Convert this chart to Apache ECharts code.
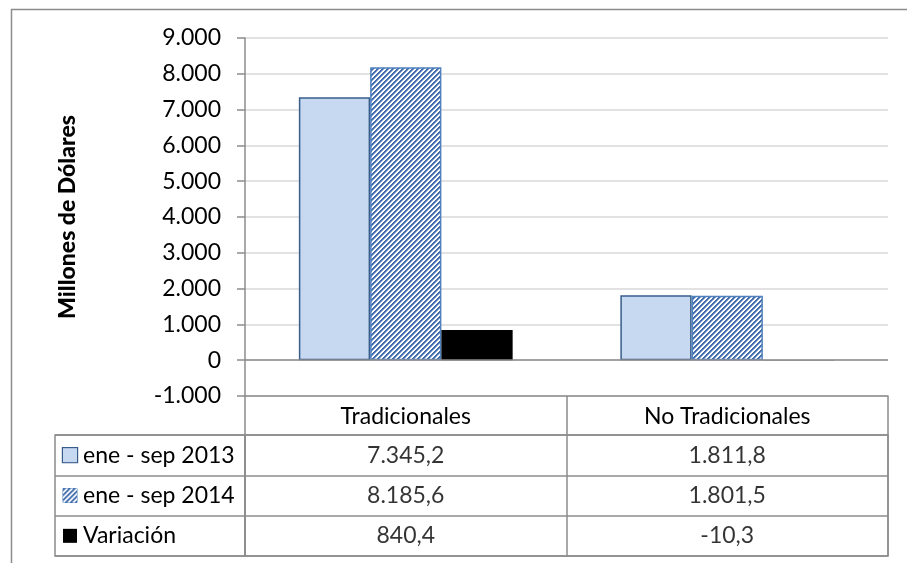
<!DOCTYPE html>
<html>
<head>
<meta charset="utf-8">
<script src="https://cdn.jsdelivr.net/npm/echarts@6/dist/echarts.min.js"></script>
<style>
html,body{margin:0;padding:0;background:#fff;}
#c{width:907px;height:563px;}
</style>
</head>
<body>
<div id="c"></div>
<script>
// ---- data ----
var categories = ['Tradicionales', 'No Tradicionales'];
var seriesNames = ['ene - sep 2013', 'ene - sep 2014', 'Variación'];
var values2013 = [7345.2, 1811.8];
var values2014 = [8185.6, 1801.5];
var valuesVar = [840.4, -10.3];
var yTicks = { min: -1000, max: 9000, interval: 1000 };
var yTitle = 'Millones de Dólares';

// ---- helpers ----
function fmtThousands(v) {
  var neg = v < 0;
  var s = Math.abs(Math.round(v)).toString().replace(/\B(?=(\d{3})+(?!\d))/g, '.');
  return (neg ? '-' : '') + s;
}
function fmtDec(v) {
  var neg = v < 0;
  var parts = Math.abs(v).toFixed(1).split('.');
  var ip = parts[0].replace(/\B(?=(\d{3})+(?!\d))/g, '.');
  return (neg ? '-' : '') + ip + ',' + parts[1];
}
function makeHatch(size, period) {
  var cv = document.createElement('canvas');
  cv.width = size; cv.height = size;
  var ctx = cv.getContext('2d');
  var img = ctx.createImageData(size, size);
  for (var y = 0; y < size; y++) {
    for (var x = 0; x < size; x++) {
      var k = (x + y) % period;
      var c;
      if (k === 0 || k === 1) c = [66, 108, 172];
      else if (k === 2) c = [140, 168, 210];
      else c = [255, 255, 255];
      var i = (y * size + x) * 4;
      img.data[i] = c[0]; img.data[i + 1] = c[1]; img.data[i + 2] = c[2]; img.data[i + 3] = 255;
    }
  }
  ctx.putImageData(img, 0, 0);
  return cv;
}
var hatchTile = makeHatch(10, 5);
var hatchIcon = makeHatch(14, 5);

var GRAY = '#8c8c8c';
var FONT = 'Lato';
var FS = 23;

var tableSeriesValues = [values2013, values2014, valuesVar];
var cellData = [];
for (var r = 0; r < seriesNames.length; r++) {
  for (var c = 0; c < categories.length; c++) {
    cellData.push({ value: [c, r], label: { formatter: fmtDec(tableSeriesValues[r][c]) } });
  }
}

var chart = echarts.init(document.getElementById('c'), null, { renderer: 'canvas' });
var option = {
  animation: false,
  textStyle: { fontFamily: FONT },
  grid: [
    { left: 245, top: 38, width: 643, height: 358, containLabel: false },
    { left: 245, top: 435, width: 643, height: 121, show: true, borderColor: GRAY, borderWidth: 1.5 },
    { left: 55, top: 435, width: 190, height: 121, show: true, borderColor: GRAY, borderWidth: 1.5 }
  ],
  xAxis: [
    {
      type: 'category', gridIndex: 0, data: categories, position: 'bottom',
      axisLine: { onZero: false, lineStyle: { color: GRAY, width: 1.5 } },
      axisTick: { show: true, length: 39, lineStyle: { color: GRAY, width: 1.5 } },
      axisLabel: { margin: 9, fontSize: FS, color: '#000', fontFamily: FONT },
      splitLine: { show: false }
    },
    {
      type: 'category', gridIndex: 1, data: categories,
      axisLine: { show: false }, axisTick: { show: false }, axisLabel: { show: false },
      splitLine: { show: true, lineStyle: { color: GRAY, width: 1.5 } }
    },
    {
      type: 'category', gridIndex: 2, data: [''],
      axisLine: { show: false }, axisTick: { show: false }, axisLabel: { show: false },
      splitLine: { show: false }
    }
  ],
  yAxis: [
    {
      type: 'value', gridIndex: 0, min: yTicks.min, max: yTicks.max, interval: yTicks.interval,
      name: yTitle, nameLocation: 'middle', nameRotate: 90, nameGap: 166,
      nameTextStyle: { fontSize: 23, fontWeight: 900, color: '#000', fontFamily: FONT },
      axisLine: { show: true, lineStyle: { color: GRAY, width: 1.5 } },
      axisTick: { show: true, length: 8, lineStyle: { color: GRAY, width: 1.5 } },
      axisLabel: { margin: 24, fontSize: FS, color: '#000', fontFamily: FONT, formatter: fmtThousands },
      splitLine: { show: true, lineStyle: { color: '#d9d9d9', width: 1.5 } }
    },
    {
      type: 'category', gridIndex: 1, data: seriesNames, inverse: true,
      axisLine: { show: false }, axisTick: { show: false }, axisLabel: { show: false },
      splitLine: { show: true, lineStyle: { color: GRAY, width: 1.5 } }
    },
    {
      type: 'category', gridIndex: 2, data: seriesNames, inverse: true,
      axisLine: { show: false }, axisTick: { show: false },
      splitLine: { show: true, lineStyle: { color: GRAY, width: 1.5 } },
      axisLabel: {
        inside: true, margin: 8, align: 'left', color: '#000', fontFamily: FONT, fontSize: FS,
        formatter: function (v, i) { return '{i' + i + '|}{s|}{t|' + v + '}'; },
        rich: {
          i0: { width: 14, height: 14, backgroundColor: '#C6D9F1', borderColor: '#385D8A', borderWidth: 1.2 },
          i1: { width: 14, height: 14, backgroundColor: { image: hatchIcon }, borderColor: '#4F81BD', borderWidth: 1 },
          i2: { width: 14, height: 14, backgroundColor: '#000' },
          s: { width: 6 },
          t: { fontSize: FS, color: '#000', fontFamily: FONT }
        }
      }
    }
  ],
  series: [
    {
      name: seriesNames[0], type: 'bar', xAxisIndex: 0, yAxisIndex: 0, data: values2013,
      barGap: '0%', barCategoryGap: '33.5%',
      itemStyle: { color: '#C6D9F1', borderColor: '#385D8A', borderWidth: 1.5 }
    },
    {
      name: seriesNames[1], type: 'bar', xAxisIndex: 0, yAxisIndex: 0, data: values2014,
      barGap: '0%', barCategoryGap: '33.5%',
      itemStyle: { color: { image: hatchTile, repeat: 'repeat' }, borderColor: '#4F81BD', borderWidth: 1.5 }
    },
    {
      name: seriesNames[2], type: 'bar', xAxisIndex: 0, yAxisIndex: 0, data: valuesVar,
      barGap: '0%', barCategoryGap: '33.5%',
      itemStyle: { color: '#000', borderWidth: 0 }
    },
    {
      type: 'line', xAxisIndex: 0, yAxisIndex: 0, data: [], z: 5,
      markLine: {
        silent: true, symbol: 'none', label: { show: false }, z: 5,
        lineStyle: { color: GRAY, width: 1.5, type: 'solid' },
        data: [{ yAxis: 0 }]
      }
    },
    {
      type: 'scatter', xAxisIndex: 1, yAxisIndex: 1, data: cellData,
      symbolSize: 1, itemStyle: { color: 'transparent' }, silent: true,
      label: { show: true, position: 'inside', fontSize: FS, color: '#000', fontFamily: FONT }
    }
  ],
  graphic: [
    {
      type: 'rect', silent: true, z: -10,
      shape: { x: 11.5, y: 9.5, width: 1200, height: 1200 },
      style: { fill: 'none', stroke: GRAY, lineWidth: 1.5 }
    }
  ]
};
chart.setOption(option);
</script>
</body>
</html>
